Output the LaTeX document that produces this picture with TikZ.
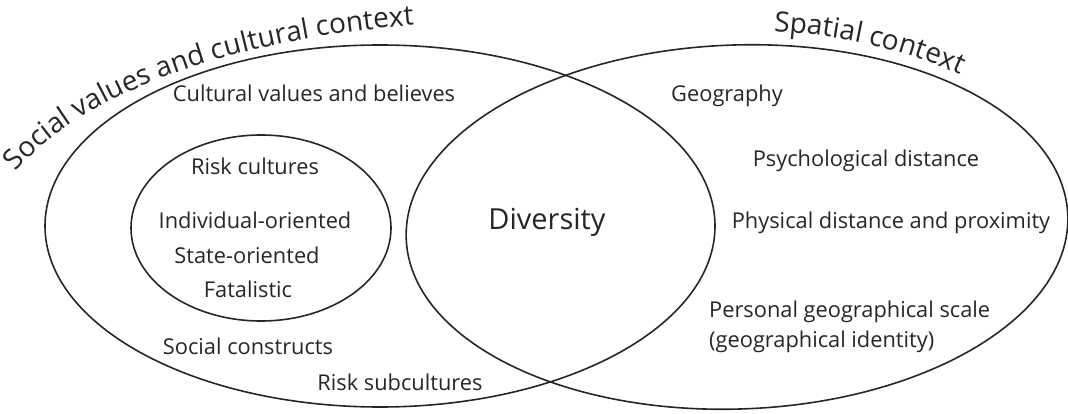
\documentclass[tikz,border=0pt]{standalone}
\usepackage{fontspec}
\setmainfont{Open Sans}
\usetikzlibrary{decorations.text}
\begin{document}
\begin{tikzpicture}[x=1pt,y=1pt,
  ring/.style={draw=black!85, line width=1.6pt},
  lbl/.style={text=black!85, font=\fontsize{21.8}{26}\selectfont, anchor=base, inner sep=0pt},
  lbll/.style={lbl, anchor=base west},
  big/.style={text=black!85, font=\fontsize{29}{34}\selectfont, anchor=base, inner sep=0pt},
]
\useasboundingbox (0,0) rectangle (1068,413);
% outer sets
\draw[ring] (380,187) ellipse [x radius=335, y radius=181];
\draw[ring, rotate around={2:(737,186)}] (737,186) ellipse [x radius=331, y radius=182];
% risk cultures
\draw[ring] (261,185) ellipse [x radius=130, y radius=93];
% curved titles
\path[decorate, decoration={text along path, text align=left,
  text={|\fontsize{28}{32}\selectfont\color{black!85}|Social values and cultural context}}]
  (500,163) ++(160:515 and 228) arc[start angle=160, end angle=75, x radius=515, y radius=228];
\path[decorate, decoration={text along path, text align=left,
  text={|\fontsize{28}{32}\selectfont\color{black!85}|Spatial context}}]
  (737,186) ++(84:352 and 197) arc[start angle=84, end angle=20, x radius=352, y radius=197];
% labels
\node[lbl] (cv) at (314,311) {Cultural values and believes};
\node[lbl] (rc) at (255,239) {Risk cultures};
\node[lbl] (io) at (255,185) {Individual-oriented};
\node[lbl] (so) at (247,150) {State-oriented};
\node[lbl] (fa) at (248,116) {Fatalistic};
\node[lbl] (sc) at (248,59) {Social constructs};
\node[lbl] (rs) at (400,23) {Risk subcultures};
\node[big] (dv) at (547,184) {Diversity};
\node[lbl] (ge) at (727,311) {Geography};
\node[lbl] (pd) at (866,246) {Psychological distance};
\node[lbl] (ph) at (891,185) {Physical distance and proximity};
\node[lbll] (pg) at (709,96) {Personal geographical scale};
\node[lbll] (gi) at (709,66) {(geographical identity)};
\end{tikzpicture}
\end{document}
